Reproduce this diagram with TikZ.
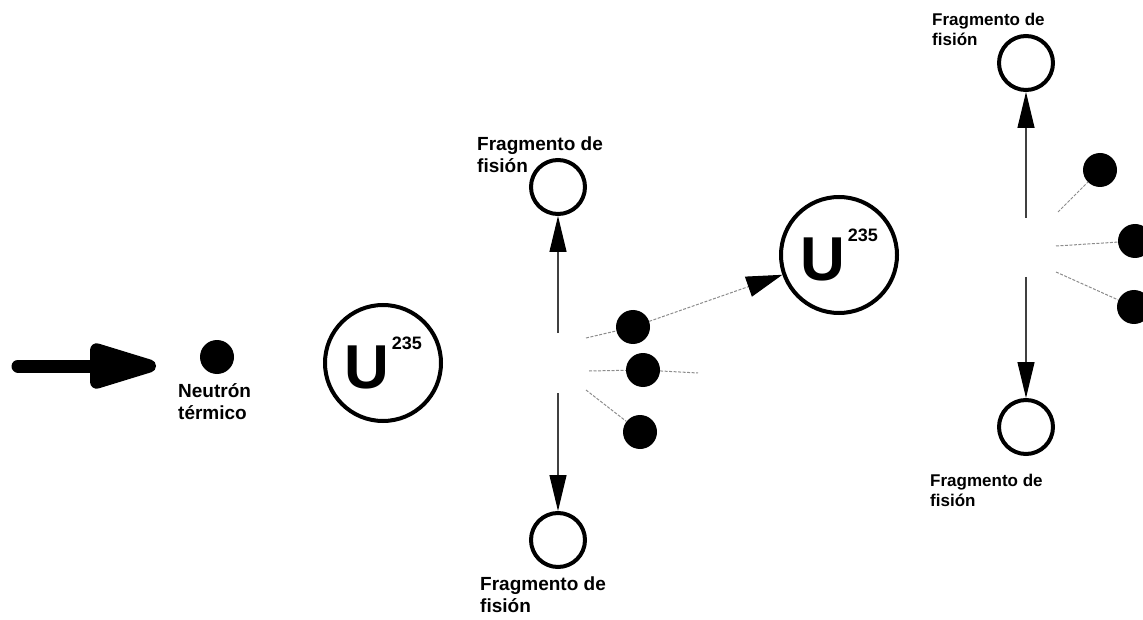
\documentclass[tikz,border=0pt]{standalone}
\usepackage{fontspec}
\setmainfont{Liberation Sans}
\usetikzlibrary{arrows.meta}

\begin{document}
\begin{tikzpicture}[
  x=1pt, y=-1pt,
  nucleus/.style={circle, draw, line width=4pt, minimum size=116pt, inner sep=0pt},
  frag/.style={circle, draw, line width=4pt, minimum size=54pt, inner sep=0pt},
  neutron/.style={circle, fill=black, minimum size=34pt, inner sep=0pt},
  lbl/.style={anchor=north west, align=left, inner sep=0pt, font=\fontsize{19}{22}\selectfont\bfseries},
  beam/.style={line width=13pt, line cap=round, -{Triangle[length=84pt, width=46pt, round]}},
  emit/.style={draw=black!75, line width=1.2pt, -{Triangle[length=36pt, width=17pt, black]}},
  track/.style={draw=black!45, line width=1pt, dash pattern=on 3pt off 1.5pt},
  hit/.style={track, -{Triangle[length=36pt, width=21pt, black]}}
]
\useasboundingbox (0,0) rectangle (1143,620);

\newcommand{\uranio}{\fontsize{62}{62}\selectfont\bfseries U\hspace{3pt}\raisebox{39pt}{\fontsize{18}{18}\selectfont 235}}

\coordinate (src) at (18,366);
\coordinate (aim) at (156,366);
\draw[beam] (src) -- (aim);

\node[neutron] (n0) at (217,357) {};
\node[lbl] (ln0) at (178,383) {Neutrón\\térmico};

\node[nucleus] (u1) at (383,363) {\uranio};

% primera fision
\node[frag] (f1) at (558,187) {};
\node[frag] (f2) at (558,540) {};
\node[lbl] (lf1) at (477,137) {Fragmento de\\fisión};
\node[lbl] (lf2) at (480,577) {Fragmento de\\fisión};
\coordinate (up1) at (558,333);
\coordinate (dn1) at (558,393);
\draw[emit] (up1) -- (f1);
\draw[emit] (dn1) -- (f2);

\node[neutron] (d1) at (633,327) {};
\node[neutron] (d2) at (643,370) {};
\node[neutron] (d3) at (640,432) {};
\coordinate (t1) at (586,338);
\coordinate (t2) at (589,371);
\coordinate (t2b) at (698,373);
\coordinate (t3) at (586,390);
\draw[track] (t1) -- (d1);
\draw[track] (t2) -- (d2);
\draw[track] (d2) -- (t2b);
\draw[track] (t3) -- (d3);

\node[nucleus] (u2) at (839,255) {\uranio};
\draw[hit] (d1) -- (u2);

% segunda fision
\node[frag] (f3) at (1026,63) {};
\node[frag] (f4) at (1026,427) {};
\node[lbl, font=\fontsize{17}{20}\selectfont\bfseries] (lf3) at (932,13) {Fragmento de\\fisión};
\node[lbl, font=\fontsize{17}{20}\selectfont\bfseries] (lf4) at (930,474) {Fragmento de\\fisión};
\coordinate (up2) at (1026,218);
\coordinate (dn2) at (1026,277);
\draw[emit] (up2) -- (f3);
\draw[emit] (dn2) -- (f4);

\node[neutron] (d4) at (1100,170) {};
\node[neutron] (d5) at (1135,241) {};
\node[neutron] (d6) at (1134,307) {};
\coordinate (t4) at (1058,212);
\coordinate (t5) at (1056,246);
\coordinate (t6) at (1056,272);
\draw[track] (t4) -- (d4);
\draw[track] (t5) -- (d5);
\draw[track] (t6) -- (d6);

\end{tikzpicture}
\end{document}
